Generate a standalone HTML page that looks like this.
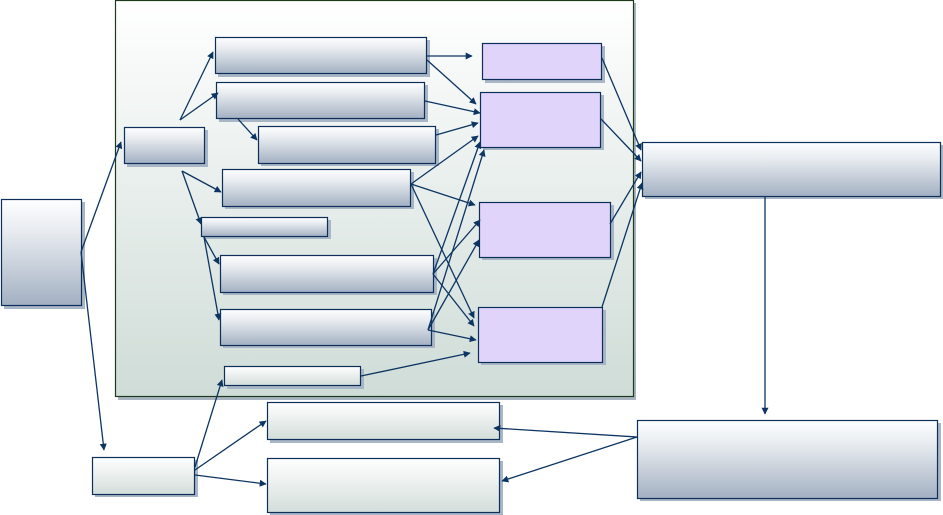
<!DOCTYPE html>
<html><head><meta charset="utf-8"><style>html,body{margin:0;padding:0;background:#fff;}svg{display:block}</style></head>
<body>
<svg width="943" height="515" viewBox="0 0 943 515" xmlns="http://www.w3.org/2000/svg">
<defs>
<linearGradient id="cont" x1="0" y1="0" x2="0" y2="1"><stop offset="0" stop-color="#ffffff"/><stop offset="1" stop-color="#cfdcd7"/></linearGradient>
<linearGradient id="gb" x1="0" y1="0" x2="0" y2="1"><stop offset="0" stop-color="#fdfeff"/><stop offset="0.3" stop-color="#e8ecf0"/><stop offset="1" stop-color="#a3b0c2"/></linearGradient>
<linearGradient id="gg" x1="0" y1="0" x2="0" y2="1"><stop offset="0" stop-color="#ffffff"/><stop offset="1" stop-color="#d3ddda"/></linearGradient>
<marker id="ah" viewBox="0 0 10 10" refX="9" refY="5" markerWidth="7" markerHeight="7" orient="auto" markerUnits="userSpaceOnUse"><path d="M0,0L10,5L0,10z" fill="#0d3563"/></marker>
</defs>
<!-- container -->
<rect x="118" y="3" width="518" height="397" fill="#a9b4c0"/>
<rect x="115.5" y="0.5" width="518" height="396" fill="url(#cont)" stroke="#1d3a1d" stroke-width="1.2"/>
<g stroke="#0d2f5a" stroke-width="1.2">
<!-- shadows -->
<g fill="#a9b6c6" stroke="none">
<rect x="4" y="202" width="81" height="107"/><rect x="127" y="130" width="81" height="37"/>
<rect x="218" y="40" width="212" height="37"/><rect x="219" y="85" width="209" height="37"/>
<rect x="261" y="129" width="178" height="37"/><rect x="225" y="172" width="189" height="37"/>
<rect x="204" y="220" width="127" height="19"/><rect x="223" y="258" width="214" height="37"/>
<rect x="223" y="312" width="212" height="36"/><rect x="227" y="369" width="137" height="20"/>
<rect x="95" y="460" width="103" height="37"/><rect x="270" y="405" width="233" height="38"/>
<rect x="270" y="461" width="233" height="54"/>
<rect x="645" y="145" width="299" height="54"/><rect x="640" y="423" width="301" height="78"/>
<rect x="485" y="46" width="120" height="37"/><rect x="483" y="95" width="121" height="55"/>
<rect x="482" y="205" width="132" height="55"/><rect x="481" y="310" width="125" height="55"/>
</g>
<rect x="1.5" y="199.5" width="80" height="106" fill="url(#gb)"/>
<rect x="124.5" y="127.5" width="80" height="36" fill="url(#gb)"/>
<rect x="215.5" y="37.5" width="211" height="36" fill="url(#gb)"/>
<rect x="216.5" y="82.5" width="208" height="36" fill="url(#gb)"/>
<rect x="258.5" y="126.5" width="177" height="37" fill="url(#gb)"/>
<rect x="222.5" y="169.5" width="188" height="37" fill="url(#gb)"/>
<rect x="201.5" y="217.5" width="126" height="19" fill="url(#gb)"/>
<rect x="220.5" y="255.5" width="213" height="37" fill="url(#gb)"/>
<rect x="220.5" y="309.5" width="211" height="36" fill="url(#gb)"/>
<rect x="224.5" y="366.5" width="136" height="19" fill="url(#gg)"/>
<rect x="92.5" y="457.5" width="102" height="37" fill="url(#gg)"/>
<rect x="267.5" y="402.5" width="232" height="37" fill="url(#gg)"/>
<rect x="267.5" y="458.5" width="232" height="54" fill="url(#gg)"/>
<rect x="642.5" y="142.5" width="298" height="54" fill="url(#gb)"/>
<rect x="637.5" y="420.5" width="300" height="78" fill="url(#gb)"/>
<g fill="#e0d4fb">
<rect x="482.5" y="43.5" width="119" height="36"/>
<rect x="480.5" y="92.5" width="120" height="55"/>
<rect x="479.5" y="202.5" width="131" height="55"/>
<rect x="478.5" y="307.5" width="124" height="55"/>
</g>
</g>
<g stroke="#0d3563" stroke-width="1.3" fill="none" marker-end="url(#ah)">
<line x1="81" y1="252" x2="121" y2="142"/>
<line x1="81" y1="252" x2="104" y2="450"/>
<line x1="180" y1="120" x2="213" y2="52"/>
<line x1="180" y1="120" x2="218" y2="93"/>
<line x1="238" y1="119" x2="257" y2="140"/>
<line x1="182" y1="171" x2="221" y2="192"/>
<line x1="182" y1="171" x2="201" y2="224"/>
<line x1="204" y1="237" x2="219" y2="264"/>
<line x1="204" y1="237" x2="219" y2="320"/>
<line x1="427" y1="56" x2="472" y2="56"/>
<line x1="427" y1="60" x2="476" y2="104"/>
<line x1="425" y1="101" x2="480" y2="113"/>
<line x1="436" y1="135" x2="478" y2="123"/>
<line x1="411" y1="184" x2="478" y2="136"/>
<line x1="411" y1="184" x2="475" y2="205"/>
<line x1="411" y1="184" x2="474" y2="318"/>
<line x1="433" y1="274" x2="480" y2="142"/>
<line x1="433" y1="274" x2="480" y2="220"/>
<line x1="433" y1="274" x2="474" y2="326"/>
<line x1="428" y1="330" x2="484" y2="150"/>
<line x1="428" y1="330" x2="479" y2="240"/>
<line x1="428" y1="330" x2="476" y2="340"/>
<line x1="361" y1="376" x2="470" y2="353"/>
<line x1="602" y1="58" x2="641" y2="150"/>
<line x1="601" y1="119" x2="641" y2="161"/>
<line x1="610" y1="224" x2="641" y2="172"/>
<line x1="602" y1="307" x2="642" y2="183"/>
<line x1="765" y1="196" x2="765" y2="414"/>
<line x1="637" y1="437" x2="494" y2="428"/>
<line x1="637" y1="437" x2="502" y2="481"/>
<line x1="195" y1="467" x2="222" y2="380"/>
<line x1="195" y1="470" x2="266" y2="421"/>
<line x1="195" y1="475" x2="266" y2="484"/>
</g>
</svg>
</body></html>
